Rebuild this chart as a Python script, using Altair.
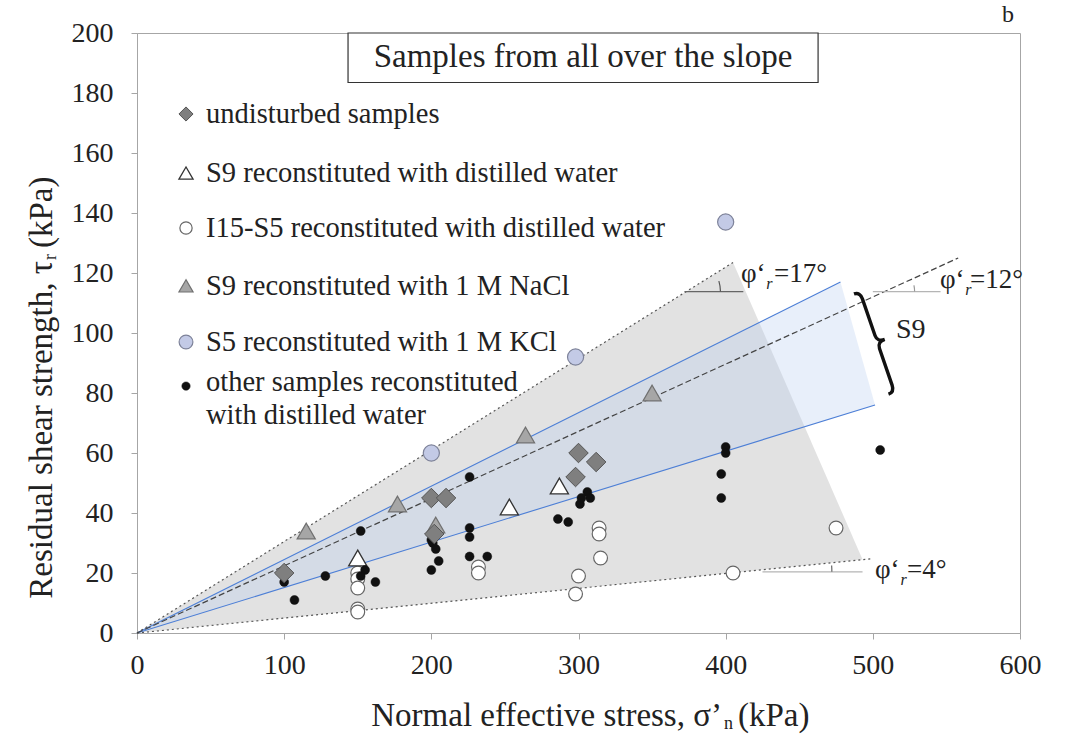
import altair as alt
import pandas as pd

FONT = "Liberation Serif"

# ---- measured points: normal effective stress (kPa) vs residual shear strength (kPa)
und_x = [100, 200, 210, 202, 298, 300, 312]
und_y = [20, 45, 45, 33, 52, 60, 57]

s9w_x = [150, 253, 287]
s9w_y = [25, 42, 49]

i15_x = [150, 150, 150, 150, 150, 232, 232, 298, 300, 314, 314, 315, 405, 475]
i15_y = [20, 18, 15, 8, 7, 22, 20, 13, 19, 35, 33, 25, 20, 35]

nacl_x = [115, 177, 203, 264, 350]
nacl_y = [34, 43, 36, 66, 80]

kcl_x = [200, 298, 400]
kcl_y = [60, 92, 137]

oth_x = [100, 107, 128, 152, 155, 152, 162, 200, 201, 203, 205, 200,
         226, 226, 226, 226, 238, 286, 293, 301, 302, 306, 308,
         400, 400, 397, 397, 505]
oth_y = [17, 11, 19, 34, 21, 19, 17, 31, 30, 28, 24, 21,
         52, 35, 32, 25.5, 25.5, 38, 37, 43, 45, 47, 45,
         62, 60, 53, 45, 61]

# ---- envelopes through the origin (end point of each)
env17_end = (405, 123.5)
env12_end = (558, 125)
env4_end = (500, 24.8)
blue_hi_end = (478, 117)
blue_lo_end = (501.5, 76)

# grey range between the 17 deg and 4 deg envelopes
grey_x = [0, 405, 493]
grey_top = [0, 123.5, 24.5]
grey_bot = [0, 20.1, 24.5]

# S9 band between the two blue envelopes
band_x = [0, 478, 501.5]
band_top = [0, 117, 76]
band_bot = [0, 72.4, 76]

XS = alt.Scale(domain=[0, 600], nice=False, zero=True)
YS = alt.Scale(domain=[0, 200], nice=False, zero=True)

axis_common = dict(
    title="", grid=False, labelFont=FONT, labelFontSize=28, labelColor="#222222",
    domainColor="#a6a6a6", tickColor="#a6a6a6", tickSize=6, labelFlush=False,
)
XAX = alt.Axis(values=[0, 100, 200, 300, 400, 500, 600], labelPadding=12, **axis_common)
YAX = alt.Axis(values=list(range(0, 201, 20)), labelPadding=18, **axis_common)


def X(f="x"):
    return alt.X(f"{f}:Q", scale=XS, axis=XAX)


def Y(f="y"):
    return alt.Y(f"{f}:Q", scale=YS, axis=YAX)


one = pd.DataFrame({"k": [0]})

layers = []

# shaded ranges
grey_df = pd.DataFrame({"x": grey_x, "y": grey_top, "y2": grey_bot})
layers.append(alt.Chart(grey_df).mark_area(color="#e2e2e2", opacity=1).encode(
    x=X(), y=Y(), y2="y2:Q"))
band_df = pd.DataFrame({"x": band_x, "y": band_top, "y2": band_bot})
layers.append(alt.Chart(band_df).mark_area(color="#b8cdf0", opacity=0.32).encode(
    x=X(), y=Y(), y2="y2:Q"))


def seg(end, key):
    return pd.DataFrame({"x": [0, end[0]], "y": [0, end[1]], "k": [key, key]})


blue_df = pd.concat([seg(blue_hi_end, "hi"), seg(blue_lo_end, "lo")])
layers.append(alt.Chart(blue_df).mark_line(color="#4d7fd6", strokeWidth=1.1).encode(
    x=X(), y=Y(), detail="k:N"))
dot_df = pd.concat([seg(env17_end, "a"), seg(env4_end, "b")])
layers.append(alt.Chart(dot_df).mark_line(color="#555555", strokeWidth=1.2, strokeDash=[2, 3]).encode(
    x=X(), y=Y(), detail="k:N"))
layers.append(alt.Chart(seg(env12_end, "c")).mark_line(color="#444444", strokeWidth=1.2, strokeDash=[6, 3]).encode(
    x=X(), y=Y()))

# angle markers: horizontal reference and arc
ref_df = pd.DataFrame({"x": [372, 500, 425], "x2": [412, 546, 493], "y": [113.8, 113.8, 20.4],
                       "c": ["#666666", "#b5b5b5", "#b5b5b5"]})
layers.append(alt.Chart(ref_df).mark_rule(strokeWidth=1.2).encode(
    x=X(), x2="x2:Q", y=Y(), color=alt.Color("c:N", scale=None)))
arc_specs = [(372, 113.8, 36, 17, "#555555"), (508, 113.8, 30, 12, "#999999"), (411, 20.4, 90, 4, "#666666")]
for ax_, ay_, r_, deg, col in arc_specs:
    th = 3.14159265 / 2
    layers.append(alt.Chart(pd.DataFrame({"x": [ax_], "y": [ay_]})).mark_arc(
        radius=r_, radius2=r_, theta=th - deg * 3.14159265 / 180, theta2=th,
        filled=False, stroke=col, strokeWidth=1.2).encode(x=X(), y=Y()))

# point series
STY = {
    "i15": dict(shape="circle", fill="white", stroke="#666666", strokeWidth=1.2, size=190),
    "s9w": dict(shape="triangle-up", fill="white", stroke="#333333", strokeWidth=1.3, size=330),
    "oth": dict(shape="circle", fill="#111111", stroke="#111111", strokeWidth=0.5, size=80),
    "nacl": dict(shape="triangle-up", fill="#a6a6a6", stroke="#707070", strokeWidth=1.2, size=330),
    "und": dict(shape="diamond", fill="#7f7f7f", stroke="#555555", strokeWidth=1, size=380),
    "kcl": dict(shape="circle", fill="#c3cae6", stroke="#7d8299", strokeWidth=1.2, size=260),
}
series = [("i15", i15_x, i15_y), ("s9w", s9w_x, s9w_y), ("oth", oth_x, oth_y),
          ("nacl", nacl_x, nacl_y), ("und", und_x, und_y), ("kcl", kcl_x, kcl_y)]
for key, xs, ys in series:
    layers.append(alt.Chart(pd.DataFrame({"x": xs, "y": ys})).mark_point(
        filled=True, opacity=1, **STY[key]).encode(x=X(), y=Y()))

# legend inside the plot
leg_sym_x = 33.3
leg_txt_x = 46.9
leg_keys = ["und", "s9w", "i15", "nacl", "kcl", "oth"]
leg_sym_y = [173, 153.3, 135, 115.7, 97, 82.3]
leg_sym_size = {"und": 200, "s9w": 200, "i15": 150, "nacl": 200, "kcl": 190, "oth": 70}
leg_text = ["undisturbed samples", "S9 reconstituted with distilled water",
            "I15-S5 reconstituted with distilled water", "S9 reconstituted with 1 M NaCl",
            "S5 reconstituted with 1 M KCl", "other samples reconstituted", "with distilled water"]
leg_text_y = [173, 153.3, 135, 115.7, 97, 83.8, 72.7]
for key, yy in zip(leg_keys, leg_sym_y):
    st = dict(STY[key])
    st["size"] = leg_sym_size[key]
    layers.append(alt.Chart(pd.DataFrame({"x": [leg_sym_x], "y": [yy]})).mark_point(
        filled=True, opacity=1, **st).encode(x=X(), y=Y()))
layers.append(alt.Chart(pd.DataFrame({"x": [leg_txt_x] * len(leg_text), "y": leg_text_y, "t": leg_text}))
              .mark_text(font=FONT, fontSize=28.5, align="left", baseline="middle", color="#222222")
              .encode(x=X(), y=Y(), text="t:N"))

# title box
box_df = pd.DataFrame({"x": [143.4], "x2": [462.8], "y": [200], "y2": [183.5]})
layers.append(alt.Chart(box_df).mark_rect(fill="white", stroke="#333333", strokeWidth=1.2).encode(
    x=X(), x2="x2:Q", y=Y(), y2="y2:Q"))
layers.append(alt.Chart(pd.DataFrame({"x": [303.1], "y": [192], "t": ["Samples from all over the slope"]}))
              .mark_text(font=FONT, fontSize=33, align="center", baseline="middle", color="#222222")
              .encode(x=X(), y=Y(), text="t:N"))

# friction angle labels (symbol, subscript, value)
ang_main = pd.DataFrame({
    "x": [410.4, 432.8, 545.6, 566.0, 501.5, 523.2],
    "y": [119.7, 119.7, 117.7, 117.7, 21.0, 21.0],
    "t": ["φ‘", "=17°", "φ‘", "=12°", "φ‘", "=4°"]})
layers.append(alt.Chart(ang_main).mark_text(font=FONT, fontSize=27, align="left", baseline="middle",
                                            color="#222222").encode(x=X(), y=Y(), text="t:N"))
ang_sub = pd.DataFrame({"x": [427.5, 562.8, 518.8], "y": [116.3, 114.3, 17.7], "t": ["r", "r", "r"]})
layers.append(alt.Chart(ang_sub).mark_text(font=FONT, fontSize=16, fontStyle="italic", align="left",
                                           baseline="middle", color="#222222").encode(x=X(), y=Y(), text="t:N"))

# S9 brace and label
brace_path = "M-0.12,-1 Q0,-1 0,-0.86 L0,-0.13 Q0,0 0.15,0 Q0,0 0,0.13 L0,0.86 Q0,1 -0.12,1"
layers.append(alt.Chart(pd.DataFrame({"x": [503.0], "y": [97]})).mark_point(
    shape=brace_path, size=106 * 106, angle=341, filled=False, stroke="#111111", strokeWidth=3.4,
    opacity=1).encode(x=X(), y=Y()))
layers.append(alt.Chart(pd.DataFrame({"x": [515.7], "y": [101], "t": ["S9"]}))
              .mark_text(font=FONT, fontSize=28, align="left", baseline="middle", color="#222222")
              .encode(x=X(), y=Y(), text="t:N"))


# axis titles and panel letter (pixel positions relative to the plot area)
def px_text(t, px, py, size, **kw):
    return alt.Chart(one).mark_text(text=t, font=FONT, fontSize=size, baseline="middle",
                                    color="#222222", **kw).encode(x=alt.value(px), y=alt.value(py))


layers.append(px_text("Normal effective stress, σ’", 585, 683, 33, align="right"))
layers.append(px_text("n", 587, 691, 18, align="left"))
layers.append(px_text("(kPa)", 601, 683, 33, align="left"))
layers.append(px_text("Residual shear strength, τ", -95, 228, 33, align="right", angle=270))
layers.append(px_text("r", -86, 227, 18, align="left", angle=270))
layers.append(px_text("(kPa)", -95, 215, 33, align="left", angle=270))
layers.append(px_text("b", 871, -18, 24, align="center"))

chart = alt.layer(*layers).properties(
    width=883, height=600,
    autosize=alt.AutoSizeParams(type="none"),
    padding={"left": 137, "top": 33, "right": 48, "bottom": 109},
    background="white",
).configure_view(stroke="#a6a6a6", strokeWidth=1)

chart.save("out.html", embed_options={"renderer": "svg", "actions": False})
